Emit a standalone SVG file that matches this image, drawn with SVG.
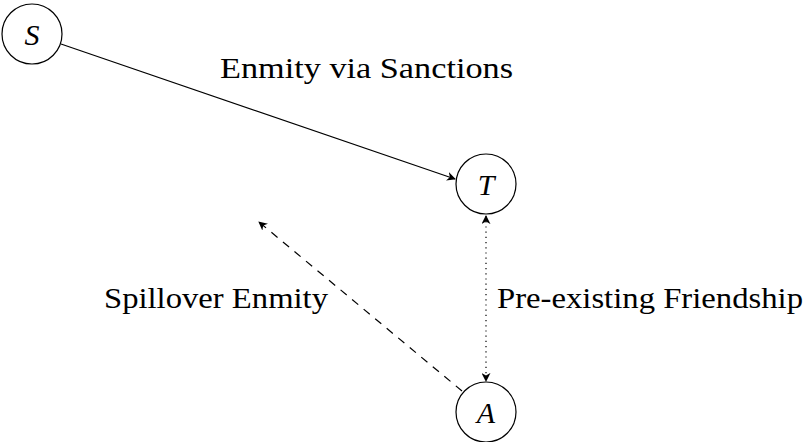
<svg xmlns="http://www.w3.org/2000/svg" width="811" height="442" viewBox="0 0 811 442">
<style>
.node{fill:#fff;stroke:#000;stroke-width:1.2}
.edge{fill:none;stroke:#000;stroke-width:1.2}
.lbl{font-family:'Liberation Serif','Times New Roman',serif;font-size:30px;fill:#000}
.var{font-family:'Liberation Serif','Times New Roman',serif;font-style:italic;font-size:30px;fill:#000;text-anchor:middle}
</style>
<defs>
<marker id="arr" viewBox="0 0 10 10" refX="9" refY="5" markerWidth="9" markerHeight="9" markerUnits="userSpaceOnUse" orient="auto-start-reverse">
<path d="M0,0 L10,5 L0,10 L3,5 Z" fill="#000"/>
</marker>
</defs>
<g id="connectors">
<line class="edge" x1="61" y1="44" x2="455" y2="179" marker-end="url(#arr)"/>
<line class="edge" x1="486" y1="216" x2="486" y2="381" stroke-dasharray="1.2,4" marker-start="url(#arr)" marker-end="url(#arr)"/>
<line class="edge" x1="462" y1="391" x2="259" y2="222" stroke-dasharray="8,7" marker-end="url(#arr)"/>
</g>
<g id="node-S">
<circle class="node" cx="32" cy="34" r="30"/>
<text class="var" x="32" y="45">S</text>
</g>
<g id="node-T">
<circle class="node" cx="486" cy="184" r="30"/>
<text class="var" x="486" y="195">T</text>
</g>
<g id="node-A">
<circle class="node" cx="486" cy="412" r="30"/>
<text class="var" x="486" y="423">A</text>
</g>
<g id="labels">
<text class="lbl" x="220" y="78" textLength="293" lengthAdjust="spacingAndGlyphs">Enmity via Sanctions</text>
<text class="lbl" x="104" y="308" textLength="224" lengthAdjust="spacingAndGlyphs">Spillover Enmity</text>
<text class="lbl" x="497" y="308" textLength="306" lengthAdjust="spacingAndGlyphs">Pre-existing Friendship</text>
</g>
</svg>
